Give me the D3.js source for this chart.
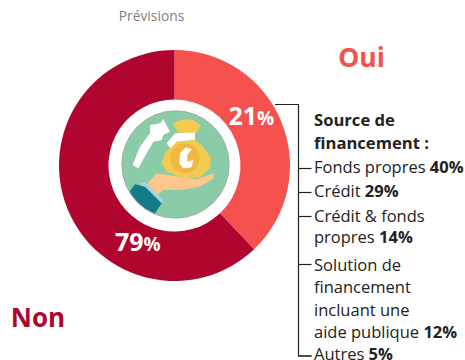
<!DOCTYPE html>
<html><head><meta charset="utf-8">
<script src="https://cdn.jsdelivr.net/npm/d3@7"></script>
<style>html,body{margin:0;background:#fff}svg{display:block}text{font-family:"Open Sans",sans-serif}</style>
</head><body><div id="c"></div>
<script>
const categories = ["Oui", "Non"];
const labels = [21, 79];
const drawnShares = [37.9, 62.1];
const colors = ["#f4514f", "#b0052f"];
const sourceTitle = ["Source de", "financement :"];
const sourceLines = [
  [["Fonds propres ", 0], ["40%", 1]],
  [["Crédit ", 0], ["29%", 1]],
  [["Crédit & fonds", 0]],
  [["propres ", 0], ["14%", 1]],
  [["Solution de", 0]],
  [["financement", 0]],
  [["incluant une", 0]],
  [["aide publique ", 0], ["12%", 1]],
  [["Autres ", 0], ["5%", 1]]
];
const rowY = [173, 197, 221.5, 243, 270.5, 293, 316, 338, 359.5];
const tickY = [168.5, 192.5, 216.5, 264.5, 356];

const svg = d3.select("#c").append("svg").attr("width", 465).attr("height", 360);
const cx = 174.5, cy = 165.5;
const g = svg.append("g").attr("transform", `translate(${cx},${cy})`);
const pie = d3.pie().sort(null)(drawnShares);
const arc = d3.arc().innerRadius(66).outerRadius(115.5);
g.selectAll("path.s").data(pie).join("path").attr("class", "s").attr("d", arc).attr("fill", (d, i) => colors[i]);

svg.append("text").attr("x", 151.5).attr("y", 21).attr("text-anchor", "middle").attr("font-size", 13.8).attr("fill", "#808080").text("Prévisions");
svg.append("text").attr("x", 361.5).attr("y", 67).attr("text-anchor", "middle").attr("font-size", 26.5).attr("font-weight", 700).attr("fill", colors[0]).text(categories[0]);
svg.append("text").attr("x", 38).attr("y", 327).attr("text-anchor", "middle").attr("font-size", 26).attr("font-weight", 700).attr("fill", colors[1]).text(categories[1]);

function pct(x, y, v) {
  const t = svg.append("text").attr("x", x).attr("y", y).attr("fill", "#fff").attr("font-weight", 700).attr("font-size", 25);
  t.append("tspan").text(v);
  t.append("tspan").attr("font-size", 19).text("%");
}
pct(228.5, 125, labels[0]);
pct(115, 251, labels[1]);

// icon
const defs = svg.append("defs");
defs.append("clipPath").attr("id", "iconClip").append("circle").attr("cx", 226.5).attr("cy", 223.5).attr("r", 161);
const icon = svg.append("g").attr("transform", "translate(100,90) scale(0.33333)").attr("clip-path", "url(#iconClip)");
icon.append("circle").attr("cx", 226.5).attr("cy", 223.5).attr("r", 161).attr("fill", "#8acba8");
const shapes = [
  ["#fff", "M98,225L120,170L150,130L150,105L180,100L190,88L210,125L190,135L185,150L160,155L140,190L115,235Z"],
  ["#fff", "M200,160L225,130L285,125L285,150L230,155L215,180Z"],
  ["#f3cc4f", "M218,100L250,88L280,90L302,105L290,128L235,128Z"],
  ["#f3cc4f", "M230,155L285,150L310,170L333,205L330,235L300,262L250,265L200,245L185,220L195,190Z"],
  ["#eeb843", "M255,160A45,45 0 1 1 255,250A45,45 0 1 1 255,160Z"],
  ["#fff", "M240,190L258,172L275,178L262,195L262,215L280,210L275,232L250,235L238,220Z"],
  ["#fbc78c", "M135,290L170,250L250,262L290,268L340,250L342,265L300,290L240,300L190,300L165,320Z"],
  ["#a6d4e6", "M120,280L135,275L190,330L180,345L140,310Z"],
  ["#127d87", "M85,310L105,283L135,290L185,340L160,378L120,365Z"]
];
icon.selectAll("path").data(shapes).join("path").attr("fill", d => d[0]).attr("d", d => d[1]);
svg.append("circle").attr("cx", 175.5).attr("cy", 164.5).attr("r", 53.7).attr("fill", "none").attr("stroke", "#a3aaa5").attr("stroke-width", 1);

// legend
const xText = 314, lineX = 298.5;
const lg = svg.append("g");
lg.append("path").attr("fill", "none").attr("stroke", "#222").attr("stroke-width", 1.2)
  .attr("d", `M275,104.5H${lineX}V356H311.5`);
lg.selectAll("line").data(tickY).join("line").attr("x1", lineX).attr("x2", 311.5)
  .attr("y1", d => d).attr("y2", d => d).attr("stroke", "#222").attr("stroke-width", 1.2);
sourceTitle.forEach((t, i) => lg.append("text").attr("x", xText).attr("y", [126, 149][i]).attr("font-size", 16.6).attr("font-weight", 700).attr("fill", "#222").text(t));
sourceLines.forEach((parts, i) => {
  const t = lg.append("text").attr("x", xText).attr("y", rowY[i]).attr("font-size", 16.5).attr("fill", "#222");
  parts.forEach(p => t.append("tspan").attr("font-weight", p[1] ? 700 : 400).text(p[0]));
});
</script></body></html>
